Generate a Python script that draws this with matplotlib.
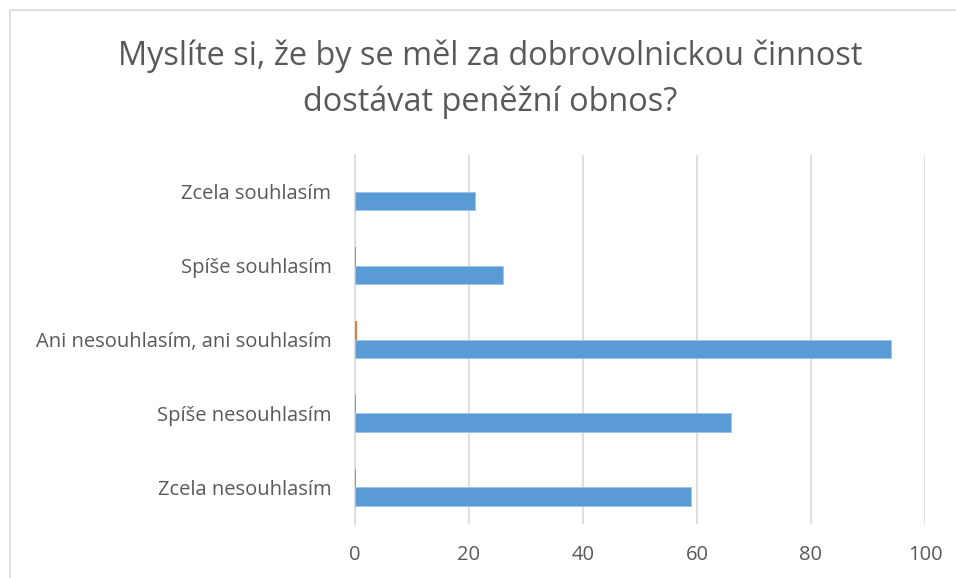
import matplotlib
matplotlib.use("Agg")
import matplotlib.pyplot as plt
from matplotlib.patches import Rectangle
import numpy as np

categories = ["Zcela nesouhlasím", "Spíše nesouhlasím", "Ani nesouhlasím, ani souhlasím",
              "Spíše souhlasím", "Zcela souhlasím"]
counts = [59, 66, 94, 26, 21]
shares = [0.22, 0.25, 0.35, 0.10, 0.08]
title = "Myslíte si, že by se měl za dobrovolnickou činnost\ndostávat peněžní obnos?"
xticks = [0, 20, 40, 60, 80, 100]

plt.rcParams['font.family'] = ['Open Sans', 'DejaVu Sans']
TXT = '#595959'

W, H = 956, 578
fig = plt.figure(figsize=(W/100, H/100), dpi=100)
fig.patch.set_facecolor('white')

# chart border (top and left visible)
fig.add_artist(Rectangle((10/W, -0.1), 1.2, 1 - 10/H + 0.1, transform=fig.transFigure,
                         fill=False, edgecolor='#d9d9d9', linewidth=1.2))

ax = fig.add_axes([355/W, 1 - 524/H, (925-355)/W, (524-155)/H])
y = np.arange(len(categories))
h = 0.25
ax.barh(y - h/2, counts, height=h, color='#5B9BD5', edgecolor='#9DC3E6', linewidth=0.6, zorder=3)
ax.barh(y + h/2, shares, height=h, color='#ED7D31', zorder=3)

ax.set_xlim(0, 100)
ax.set_ylim(-0.5, len(categories) - 0.5)
ax.set_xticks(xticks)
ax.set_yticks(y)
ax.set_yticklabels(categories)
ax.tick_params(axis='both', length=0, colors=TXT, labelsize=14.5)
ax.tick_params(axis='x', pad=15)
ax.tick_params(axis='y', pad=17)
ax.grid(axis='x', color='#d9d9d9', linewidth=1.2, zorder=0)
for s in ['top', 'right', 'bottom']:
    ax.spines[s].set_visible(False)
ax.spines['left'].set_color('#d9d9d9')
ax.spines['left'].set_linewidth(1.2)

fig.text(490/W, 1 - 79/H, title, ha='center', va='center', fontsize=23.4, color=TXT,
         linespacing=1.5)

fig.savefig("out.png", dpi=100)
